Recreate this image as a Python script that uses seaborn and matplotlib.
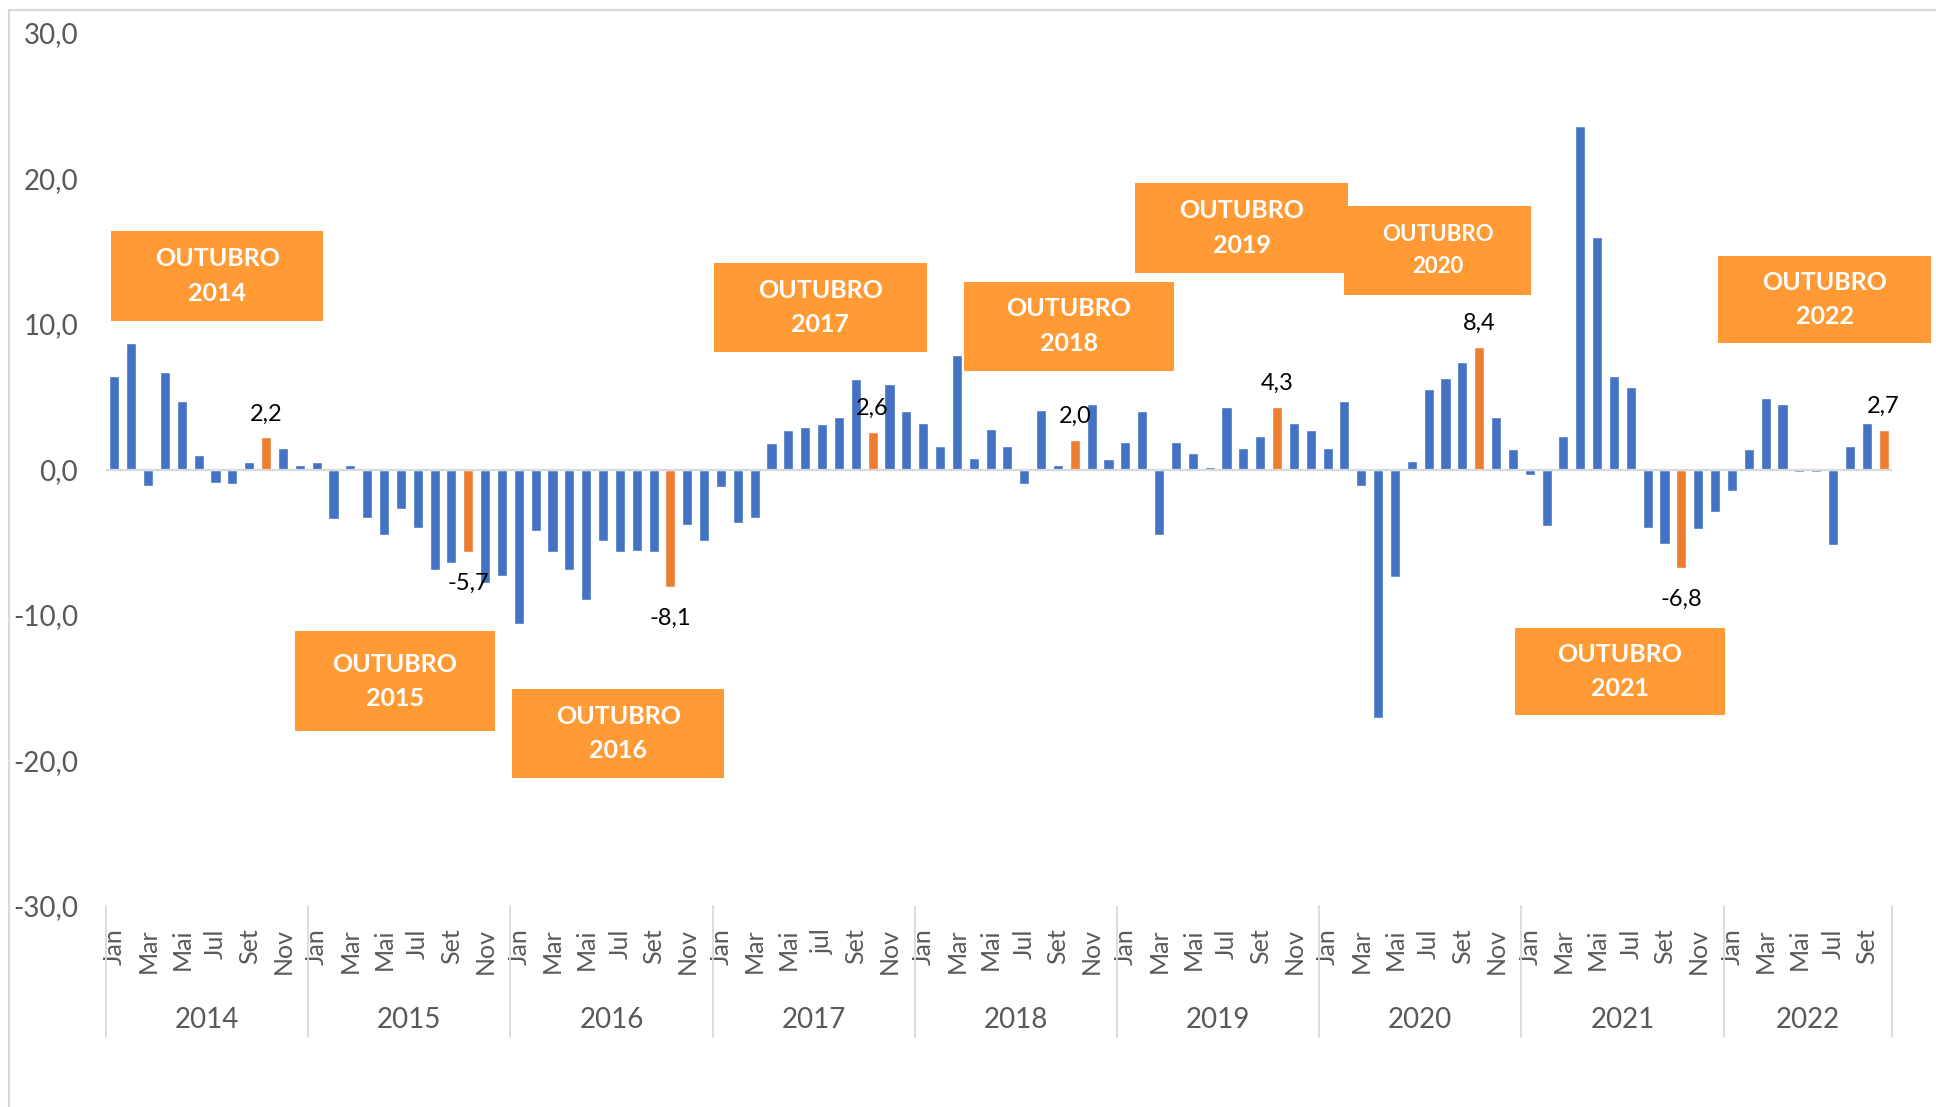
import pandas as pd
import matplotlib.pyplot as plt
import seaborn as sns
from matplotlib.patches import Rectangle

# dados mensais (variação %), jan/2014 a out/2022
anos = ["2014", "2015", "2016", "2017", "2018", "2019", "2020", "2021", "2022"]
meses = ["Jan", "Fev", "Mar", "Abr", "Mai", "Jun", "Jul", "Ago", "Set", "Out", "Nov", "Dez"]

v2014 = [6.4, 8.7, -1.1, 6.7, 4.7, 1.0, -0.9, -1.0, 0.5, 2.2, 1.5, 0.3]
v2015 = [0.5, -3.4, 0.3, -3.3, -4.5, -2.7, -4.0, -6.9, -6.4, -5.7, -7.8, -7.3]
v2016 = [-10.6, -4.2, -5.7, -6.9, -9.0, -4.9, -5.7, -5.6, -5.7, -8.1, -3.8, -4.9]
v2017 = [-1.2, -3.7, -3.3, 1.8, 2.7, 2.9, 3.1, 3.6, 6.2, 2.6, 5.9, 4.0]
v2018 = [3.2, 1.6, 7.9, 0.8, 2.8, 1.6, -1.0, 4.1, 0.3, 2.0, 4.5, 0.7]
v2019 = [1.9, 4.0, -4.5, 1.9, 1.1, 0.2, 4.3, 1.5, 2.3, 4.3, 3.2, 2.7]
v2020 = [1.5, 4.7, -1.1, -17.1, -7.4, 0.6, 5.5, 6.3, 7.4, 8.4, 3.6, 1.4]
v2021 = [-0.4, -3.9, 2.3, 23.6, 16.0, 6.4, 5.7, -4.0, -5.1, -6.8, -4.1, -2.9]
v2022 = [-1.5, 1.4, 4.9, 4.5, -0.2, -0.2, -5.2, 1.6, 3.2, 2.7]

valores_ano = [v2014, v2015, v2016, v2017, v2018, v2019, v2020, v2021, v2022]

# rótulos do eixo (um a cada dois meses); 2017 tem "jul" minúsculo no original
rotulos_mes = {"2017": ["Jan", "Mar", "Mai", "jul", "Set", "Nov"]}
rotulo_padrao = ["Jan", "Mar", "Mai", "Jul", "Set", "Nov"]

# caixas "OUTUBRO aaaa": (x0, x1, y0, y1) em coordenadas de dados
caixas = [
    ("2014", -0.2, 12.4, 10.2, 16.4),
    ("2015", 10.7, 22.6, -18.0, -11.1),
    ("2016", 23.6, 36.2, -21.2, -15.1),
    ("2017", 35.6, 48.2, 8.1, 14.2),
    ("2018", 50.4, 62.9, 6.8, 12.9),
    ("2019", 60.6, 73.2, 13.5, 19.7),
    ("2020", 73.0, 84.1, 12.0, 18.1),
    ("2021", 83.1, 95.6, -16.9, -10.9),
    ("2022", 95.2, 107.8, 8.7, 14.7),
]

linhas = []
for ano, vals in zip(anos, valores_ano):
    for m, v in zip(meses, vals):
        linhas.append({"mes": f"{ano}-{m}", "ano": ano, "valor": v, "tipo": "out" if m == "Out" else "normal"})
df = pd.DataFrame(linhas)

AZUL = "#4472C4"
LARANJA = "#ED7D31"
CAIXA = "#FF9A35"
CINZA = "#595959"

sns.set_style("white")
plt.rcParams["font.family"] = ["Lato", "DejaVu Sans"]

fig = plt.figure(figsize=(19.36, 11.07), dpi=100)
ax = fig.add_axes([106 / 1936, 1 - 906 / 1107, (1892 - 106) / 1936, (906 - 33) / 1107])

sns.barplot(data=df, x="mes", y="valor", hue="tipo", palette={"normal": AZUL, "out": LARANJA},
            dodge=False, width=0.6, legend=False, ax=ax, saturation=1)

ax.axhline(0, color="#D9D9D9", lw=1.6, zorder=3)

ax.set_xlim(-0.5, len(df) - 0.5)
ax.set_ylim(-30, 30)
ax.set_yticks([-30, -20, -10, 0, 10, 20, 30])
ax.set_yticklabels([f"{t:.1f}".replace(".", ",") for t in [-30, -20, -10, 0, 10, 20, 30]],
                   fontsize=20, color=CINZA)
ax.tick_params(axis="y", length=0, pad=20)

# meses
pos, labs = [], []
for i, ano in enumerate(anos):
    n = len(valores_ano[i])
    for k, lab in enumerate(rotulos_mes.get(ano, rotulo_padrao)):
        if 2 * k < n:
            pos.append(12 * i + 2 * k)
            labs.append(lab)
ax.set_xticks(pos)
ax.set_xticklabels(labs, rotation=90, fontsize=18, color=CINZA, va="top", ha="center")
ax.tick_params(axis="x", length=0, pad=16)
ax.set_xlabel("")
ax.set_ylabel("")

for s in ax.spines.values():
    s.set_visible(False)

# anos e separadores
tr = ax.get_xaxis_transform()
inicio = 0
for ano, vals in zip(anos, valores_ano):
    fim = inicio + len(vals)
    ax.text((inicio + fim - 1) / 2, -0.131, ano, transform=tr, ha="center", va="center",
            fontsize=20, color=CINZA)
    ax.plot([inicio - 0.5, inicio - 0.5], [0, -0.150], transform=tr, color="#D9D9D9", lw=1.3, clip_on=False)
    inicio = fim
ax.plot([inicio - 0.5, inicio - 0.5], [0, -0.150], transform=tr, color="#D9D9D9", lw=1.3, clip_on=False)

# rótulos dos valores de outubro
for i, row in df.reset_index(drop=True).iterrows():
    if row["tipo"] == "out":
        v = row["valor"]
        off = 17 if v >= 0 else -22
        ax.annotate(f"{v:.1f}".replace(".", ","), (i, v), xytext=(0, off), textcoords="offset points",
                    ha="center", va="center", fontsize=17, color="black")

# caixas laranja
for ano, x0, x1, y0, y1 in caixas:
    ax.add_patch(Rectangle((x0, y0), x1 - x0, y1 - y0, facecolor=CAIXA, edgecolor="none",
                           zorder=5, clip_on=False))
    fs = 16 if ano == "2020" else 18
    ax.text((x0 + x1) / 2, (y0 + y1) / 2, f"OUTUBRO\n{ano}", ha="center", va="center",
            color="white", fontsize=fs, fontweight="bold", linespacing=1.6, zorder=6)

# moldura do gráfico
fig.patches.append(Rectangle((9 / 1936, -0.01), 1.02, 1 - 10 / 1107 + 0.01, transform=fig.transFigure,
                             fill=False, edgecolor="#D9D9D9", lw=1.5))

plt.savefig("out.png", dpi=100)
